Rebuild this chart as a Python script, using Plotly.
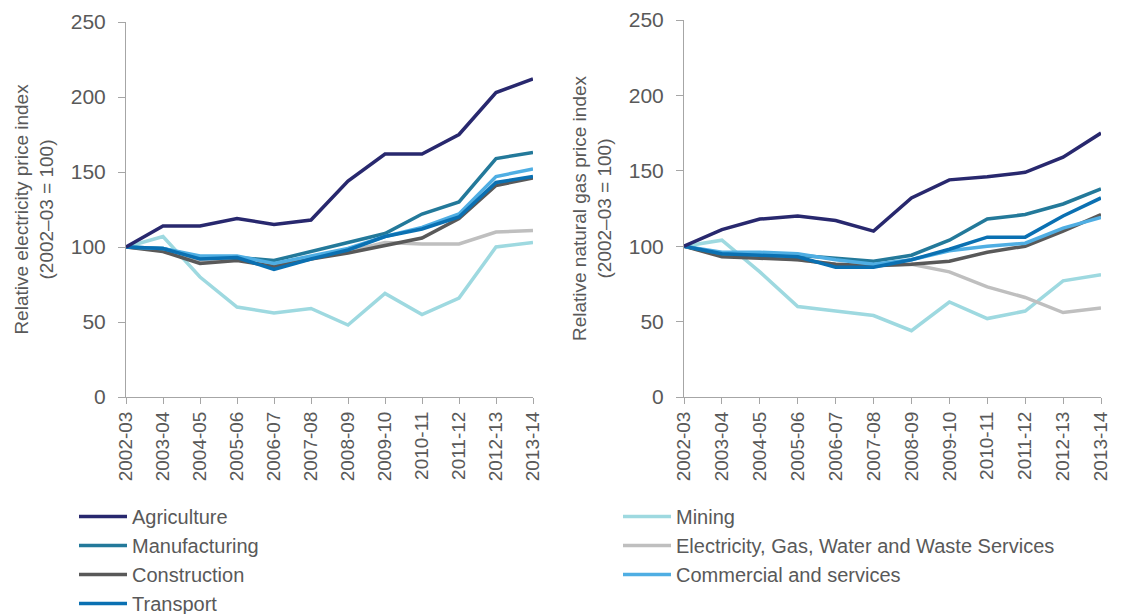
import plotly.graph_objects as go

categories = ["2002-03", "2003-04", "2004-05", "2005-06", "2006-07", "2007-08",
              "2008-09", "2009-10", "2010-11", "2011-12", "2012-13", "2013-14"]

# Electricity price index (2002-03 = 100)
elec_agriculture = [100, 114, 114, 119, 115, 118, 144, 162, 162, 175, 203, 212]
elec_mining = [100, 107, 80, 60, 56, 59, 48, 69, 55, 66, 100, 103]
elec_manufacturing = [100, 99, 93, 93, 91, 97, 103, 109, 122, 130, 159, 163]
elec_egww = [100, 98, 91, 92, 88, 93, 97, 103, 102, 102, 110, 111]
elec_construction = [100, 97, 89, 91, 87, 92, 96, 101, 106, 119, 141, 146]
elec_commercial = [100, 99, 94, 94, 89, 94, 99, 107, 113, 122, 147, 152]
elec_transport = [100, 99, 92, 93, 85, 92, 98, 107, 112, 120, 143, 147]

# Natural gas price index (2002-03 = 100)
gas_agriculture = [100, 111, 118, 120, 117, 110, 132, 144, 146, 149, 159, 175]
gas_mining = [100, 104, 83, 60, 57, 54, 44, 63, 52, 57, 77, 81]
gas_manufacturing = [100, 95, 95, 94, 92, 90, 94, 104, 118, 121, 128, 138]
gas_egww = [100, 94, 93, 91, 88, 87, 88, 83, 73, 66, 56, 59]
gas_construction = [100, 93, 92, 91, 88, 87, 88, 90, 96, 100, 110, 121]
gas_commercial = [100, 96, 96, 95, 91, 88, 91, 97, 100, 102, 112, 119]
gas_transport = [100, 95, 94, 93, 86, 86, 91, 98, 106, 106, 120, 132]

series_names = ["Agriculture", "Mining", "Manufacturing",
                "Electricity, Gas, Water and Waste Services",
                "Construction", "Commercial and services", "Transport"]
colors = {
    "Agriculture": "#28286E",
    "Mining": "#9ED9E0",
    "Manufacturing": "#23799A",
    "Electricity, Gas, Water and Waste Services": "#BFBFBF",
    "Construction": "#595959",
    "Commercial and services": "#4FAEE3",
    "Transport": "#0A70B2",
}
legend_of = {
    "Agriculture": ("legend", 1), "Manufacturing": ("legend", 2),
    "Construction": ("legend", 3), "Transport": ("legend", 4),
    "Mining": ("legend2", 1), "Electricity, Gas, Water and Waste Services": ("legend2", 2),
    "Commercial and services": ("legend2", 3),
}
elec = {
    "Agriculture": elec_agriculture, "Mining": elec_mining,
    "Manufacturing": elec_manufacturing,
    "Electricity, Gas, Water and Waste Services": elec_egww,
    "Construction": elec_construction, "Commercial and services": elec_commercial,
    "Transport": elec_transport,
}
gas = {
    "Agriculture": gas_agriculture, "Mining": gas_mining,
    "Manufacturing": gas_manufacturing,
    "Electricity, Gas, Water and Waste Services": gas_egww,
    "Construction": gas_construction, "Commercial and services": gas_commercial,
    "Transport": gas_transport,
}
draw_order = ["Mining", "Electricity, Gas, Water and Waste Services", "Construction",
              "Manufacturing", "Commercial and services", "Transport", "Agriculture"]

FONT = "Liberation Sans, Arial, sans-serif"
TXT = "#595959"
AX = "#A6A6A6"

fig = go.Figure()
for name in draw_order:
    lg, rank = legend_of[name]
    fig.add_trace(go.Scatter(x=categories, y=elec[name], mode="lines", name=name,
                             line=dict(color=colors[name], width=3.5),
                             xaxis="x", yaxis="y", legend=lg, legendrank=rank,
                             showlegend=True))
for name in draw_order:
    fig.add_trace(go.Scatter(x=categories, y=gas[name], mode="lines", name=name,
                             line=dict(color=colors[name], width=3.5),
                             xaxis="x2", yaxis="y2", showlegend=False))

W, H = 1129, 614
ml, mr, mt, mb = 126, 28, 20, 217
iw = W - ml - mr
ih = H - mt - mb

def px_x(p):
    return (p - ml) / iw

def px_y(p):
    return (H - mb - p) / ih

xcommon = dict(type="category", range=[0, 11], showline=True, linecolor=AX, linewidth=1,
               ticks="outside", ticklen=6, tickcolor=AX, tickangle=-90,
               tickfont=dict(family=FONT, size=19, color=TXT), showgrid=False,
               zeroline=False, fixedrange=True, automargin=False)
ycommon = dict(range=[0, 250], dtick=50, showline=True, linecolor=AX, linewidth=1,
               ticks="outside", ticklen=7, tickcolor=AX, showgrid=False, zeroline=False,
               tickfont=dict(family=FONT, size=21, color=TXT), ticklabelstandoff=8,
               automargin=False, fixedrange=True)

fig.update_layout(
    width=W, height=H,
    margin=dict(l=ml, r=mr, t=mt, b=mb, autoexpand=False),
    paper_bgcolor="white", plot_bgcolor="white",
    font=dict(family=FONT, color=TXT),
    xaxis=dict(domain=[0, px_x(533)], anchor="y", **xcommon),
    yaxis=dict(domain=[0, px_y(22)], anchor="x",
               title=dict(text="Relative electricity price index<br>(2002\u201303 = 100)",
                          font=dict(family=FONT, size=19, color=TXT), standoff=12),
               **ycommon),
    xaxis2=dict(domain=[px_x(684), 1], anchor="y2", **xcommon),
    yaxis2=dict(domain=[0, 1], anchor="x2",
                title=dict(text="Relative natural gas price index<br>(2002\u201303 = 100)",
                           font=dict(family=FONT, size=19, color=TXT), standoff=12),
                **ycommon),
    legend=dict(x=px_x(74), y=px_y(497), xanchor="left", yanchor="top",
                orientation="v", itemwidth=48, bgcolor="rgba(0,0,0,0)",
                font=dict(family=FONT, size=20, color=TXT), tracegroupgap=0),
    legend2=dict(x=px_x(618), y=px_y(497), xanchor="left", yanchor="top",
                 orientation="v", itemwidth=48, bgcolor="rgba(0,0,0,0)",
                 font=dict(family=FONT, size=20, color=TXT), tracegroupgap=0),
)

fig.write_html(
    "out.html",
    config={"displayModeBar": False},
    post_script="document.body.style.margin='0px';document.body.style.overflow='hidden';",
)
